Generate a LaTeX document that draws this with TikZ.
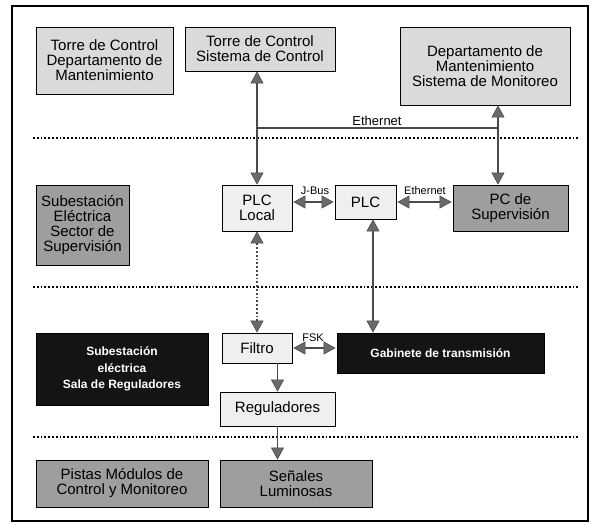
\documentclass[tikz,border=0pt]{standalone}
\usepackage{fontspec}
\setmainfont{Liberation Sans}
\usetikzlibrary{arrows.meta}
\definecolor{lightbox}{HTML}{DADADA}
\definecolor{plcbox}{HTML}{EFEFEF}
\definecolor{darkbox}{HTML}{9E9E9E}
\definecolor{blackbox}{HTML}{141414}
\definecolor{conn}{HTML}{4A4A4A}
\definecolor{tipfill}{HTML}{6A6A6A}
\begin{document}
\begin{tikzpicture}[x=1pt,y=-1pt,
  every node/.style={inner sep=0pt, align=center},
  bx/.style={draw=black, line width=0.9pt, font=\fontsize{15}{15}\selectfont},
  lightb/.style={bx, fill=lightbox},
  plcb/.style={bx, fill=plcbox},
  darkb/.style={bx, fill=darkbox},
  blackb/.style={draw=black, line width=0.9pt, fill=blackbox, text=white, font=\fontsize{12}{16.5}\selectfont\bfseries},
  arr/.style={draw=conn, line width=1.8pt,
    {Triangle[width=13pt,length=12pt,fill=tipfill,line width=0.6pt]}-{Triangle[width=13pt,length=12pt,fill=tipfill,line width=0.6pt]}},
  arrone/.style={draw=conn, line width=1.8pt,
    -{Triangle[width=13pt,length=12pt,fill=tipfill,line width=0.6pt]}},
  dotarr/.style={arr, dotted},
  sep/.style={draw=black, line width=1.8pt, dotted},
  lbl/.style={font=\fontsize{11}{12}\selectfont},
  lblbig/.style={font=\fontsize{13}{14}\selectfont}
]
\useasboundingbox (0,0) rectangle (592,525);
\fill[white] (0,0) rectangle (592,525);
% frame
\draw[line width=1.8pt] (12,6) rectangle (588,521);

% separators
\coordinate (s1a) at (33,138); \coordinate (s1b) at (580,138);
\coordinate (s2a) at (33,287); \coordinate (s2b) at (580,287);
\coordinate (s3a) at (33,437); \coordinate (s3b) at (580,437);
\draw[sep] (s1a) -- (s1b);
\draw[sep] (s2a) -- (s2b);
\draw[sep] (s3a) -- (s3b);

% top row
\node[lightb, minimum width=137, minimum height=67] (torreDep) at (104.5,60.5)
  {Torre de Control\\Departamento de\\Mantenimiento};
\node[lightb, minimum width=150, minimum height=44] (torreSis) at (260,49)
  {Torre de Control\\Sistema de Control};
\node[lightb, minimum width=170, minimum height=78] (depMon) at (485,66)
  {Departamento de\\Mantenimiento\\Sistema de Monitoreo};

% middle row
\node[darkb, minimum width=93, minimum height=80] (subSup) at (82.5,225)
  {Subestación\\Eléctrica\\Sector de\\Supervisión};
\node[plcb, minimum width=70, minimum height=46] (plcLocal) at (257,208)
  {PLC\\Local};
\node[plcb, minimum width=61, minimum height=34] (plc) at (365.5,202) {PLC};
\node[darkb, minimum width=115, minimum height=46] (pcSup) at (510.5,208)
  {PC de\\Supervisión};

% lower row
\node[blackb, minimum width=172, minimum height=72] (subReg) at (122,369)
  {Subestación\\eléctrica\\Sala de Reguladores};
\node[plcb, minimum width=70, minimum height=30] (filtro) at (257,348) {Filtro};
\node[blackb, minimum width=207, minimum height=40] (gab) at (440.5,353)
  {Gabinete de transmisión};
\node[plcb, minimum width=115, minimum height=34] (regul) at (277.5,409) {Reguladores};

% bottom row
\node[darkb, minimum width=172, minimum height=47] (pistas) at (122,483.5)
  {Pistas Módulos de\\Control y Monitoreo};
\node[darkb, minimum width=152, minimum height=47] (senales) at (296,483.5)
  {Señales\\Luminosas};

% Ethernet backbone
\coordinate (eth1) at (257,128);
\coordinate (eth2) at (498,128);
\draw[arr] (torreSis.south -| plcLocal.north) -- (plcLocal.north);
\draw[arr] (depMon.south -| eth2) -- (pcSup.north -| eth2);
\draw[draw=conn, line width=1.8pt] (eth1) -- (eth2);
\node[lblbig, anchor=south] (ethTop) at (377,126) {Ethernet};

% PLC links
\draw[arr] ([xshift=1pt]plcLocal.east |- plc.west) -- ([xshift=-1pt]plc.west);
\node[lbl, anchor=south] (jbus) at (315,195) {J-Bus};
\draw[arr] ([xshift=1pt]plc.east) -- ([xshift=-1pt]pcSup.west |- plc.east);
\node[lbl, anchor=south] (ethMid) at (425,195) {Ethernet};

\coordinate (plcDown) at (373,0);
\draw[arr] (plc.south -| plcDown) -- (gab.north -| plcDown);
\draw[dotarr] (plcLocal.south) -- (filtro.north);

% FSK
\draw[arr] ([xshift=1pt]filtro.east) -- ([xshift=-1pt]gab.west |- filtro.east);
\node[lbl, anchor=south] (fsk) at (313,342) {FSK};

% down chain
\draw[arrone] (filtro.south -| regul.north) -- (regul.north);
\draw[arrone] (regul.south) -- (senales.north -| regul.south);
\end{tikzpicture}
\end{document}
